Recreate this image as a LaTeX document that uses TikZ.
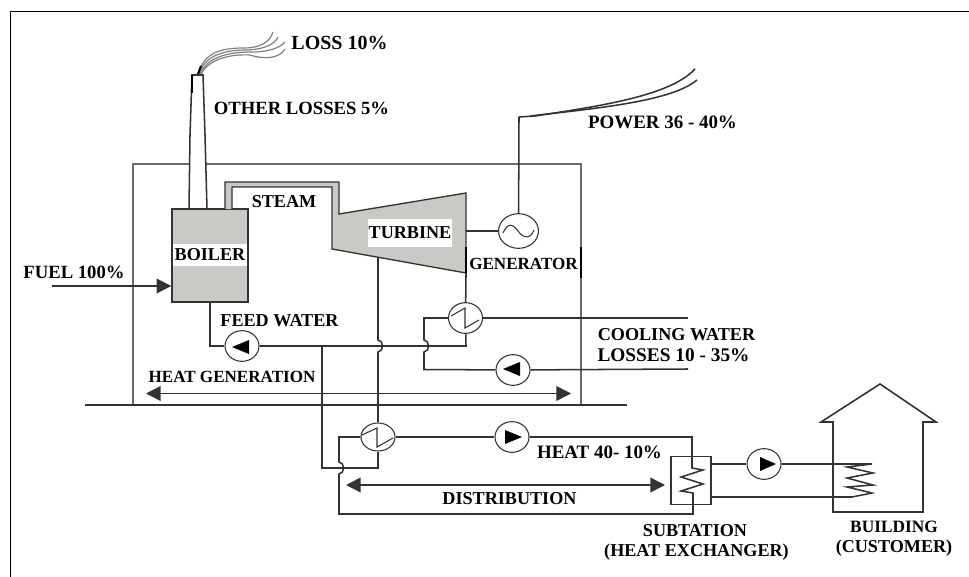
\documentclass[tikz,border=0pt]{standalone}
\usepackage{fontspec}
\setmainfont{Liberation Serif}
\usetikzlibrary{arrows.meta,shapes.geometric}

\definecolor{plantgray}{HTML}{C9C9C5}
\definecolor{linegray}{HTML}{333333}
\definecolor{wallgray}{HTML}{6A6A6A}

\tikzset{
  lbl/.style={font=\bfseries\fontsize{#1}{16}\selectfont, inner sep=0pt, text=black},
  lbl/.default=13.6,
  pipe/.style={draw=linegray, line width=1.15pt},
  wall/.style={draw=wallgray, line width=1.6pt},
  unit/.style={ellipse, draw=linegray, line width=0.8pt, fill=white, inner sep=0pt},
  pumpnode/.style={unit, minimum width=25.5pt, minimum height=23pt},
  bigarrow/.style={pipe, {Triangle[length=11pt,width=11pt]}-{Triangle[length=11pt,width=11pt]}},
  onearrow/.style={pipe, -{Triangle[length=11pt,width=11pt]}},
}

\begin{document}
\begin{tikzpicture}[x=0.75pt,y=-0.75pt]
\useasboundingbox (0,0) rectangle (969,577);

% frame
\draw[black, line width=1.2pt] (10.5,577) --(10.5,11.5) --(969,11.5);

% plant walls and ground
\draw[wall] (133,405) --(133,164) --(581,164) --(581,405);
\draw[pipe] (85,405) --(627,405);

% chimney and smoke
\draw[pipe, fill=white] (189,209) --(190,135) --(192,75) --(203,75) --(205,135) --(207,209);
\draw[draw=black, line width=1.6pt] (192,75) --(192,93);
\draw[draw=gray, line width=0.9pt] (198,74) .. controls (205,50) and (225,48) .. (245,48) .. controls (260,48) and (270,42) .. (273,32);
\draw[draw=gray, line width=0.9pt] (199,74) .. controls (206,53) and (228,50) .. (248,50) .. controls (265,49) and (275,44) .. (278,37);
\draw[draw=gray, line width=0.9pt] (200,74) .. controls (208,56) and (230,52) .. (252,52) .. controls (268,52) and (280,48) .. (285,42);
\draw[draw=gray, line width=0.9pt] (201,74) .. controls (210,58) and (232,54) .. (250,55) .. controls (265,60) and (280,58) .. (285,49);
\draw[draw=black, line width=1.5pt] (198,74) --(201,66);

% boiler
\node[draw=linegray, line width=1.1pt, fill=plantgray, minimum width=57pt, minimum height=70pt, inner sep=0pt] (boiler) at (210,255.5) {};
\node[lbl, fill=white, minimum width=55pt, minimum height=16.5pt] (boilerlabel) at (210,255) {BOILER};

% steam pipe and turbine
\draw[draw=linegray, line width=1pt, fill=plantgray] (225,209) --(225,182) --(339,182) --(339,214) --(466,193) --(466,273) --(332,249) --(332,187) --(232,187) --(232,209);
\node[lbl, fill=white, minimum width=63pt, minimum height=21pt] (turbinelabel) at (410,232.5) {TURBINE};

% generator
\node[pumpnode, minimum width=30pt, minimum height=26pt] (gen) at (518.5,231) {};
\coordinate (shaft) at (466,231);
\coordinate (wirecorner) at (519,117);
\draw[pipe] (shaft) --(gen);
\draw[pipe] (gen) --(wirecorner);
\draw[linegray, line width=0.8pt] (503,233) .. controls (508,222) and (513,224) .. (518,231) .. controls (523,238) and (530,240) .. (534,230);
\draw[pipe] (wirecorner) --(535,116) .. controls (600,106) and (670,96) .. (695,69);
\draw[pipe] (530,116) .. controls (600,108) and (672,101) .. (697,80);
\draw[black, line width=1.6pt] (466,247) --(466,278);
\draw[black, line width=1.6pt] (581,247) --(581,278);

% heat exchangers and pumps
\node[unit, minimum width=25.5pt, minimum height=23pt] (cond) at (465.5,318) {};
\node[unit, minimum width=25.5pt, minimum height=21pt] (exch) at (378,437) {};
\node[pumpnode] (pumpa) at (242,346) {};
\node[pumpnode] (pumpb) at (513,370) {};
\node[pumpnode] (pumpc) at (512,437) {};
\node[pumpnode] (pumpd) at (764,464) {};

\draw[linegray, line width=0.8pt] (451,316) --(465,308) --(465,328) --(479,320);
\draw[linegray, line width=0.8pt] (362,435) --(377,428) --(377,447) --(393,438);

\fill (232,347) --(249,340) --(249,354) --cycle;
\fill (503,369) --(520,362) --(520,376) --cycle;
\fill (522,437) --(505,430) --(505,444) --cycle;
\fill (776,464) --(760,457) --(760,471) --cycle;

% feed water
\coordinate (turbout) at (466,273);
\coordinate (feedright) at (466,346);
\coordinate (feedtee) at (322,346);
\coordinate (feedlow) at (322,468);
\coordinate (exchlow) at (378,468);
\coordinate (turbbleed) at (378,257);
\draw[pipe, line width=1.5pt] (boiler.south) |- (pumpa);
\draw[pipe] (pumpa) --(feedright) --(cond);
\draw[pipe] (turbout) --(cond);
\draw[pipe] (feedtee) --(feedlow) --(exchlow) --(exch);
% bleed line hops over the feed line
\draw[pipe] (turbbleed) --(378,340) .. controls (384,340) and (384,352) .. (378,352) --(exch);

% cooling water
\coordinate (coolin) at (688,318);
\coordinate (coolout) at (688,369);
\draw[pipe] (cond) --(coolin);
\draw[pipe] (pumpb) --(coolout);
\draw[pipe] (cond.west) --(424,318) --(424,340) .. controls (430,340) and (430,352) .. (424,352) --(424,369.5) --(pumpb);

% heat generation
\coordinate (genleft) at (146,393.5);
\coordinate (genright) at (571,393.5);
\draw[bigarrow] (genleft) --(genright);

% fuel
\coordinate (fuelin) at (52,286);
\draw[onearrow] (fuelin) --(fuelin -| boiler.west);

% district heating
\node[draw=linegray, line width=0.9pt, minimum width=30pt, minimum height=35.5pt, inner sep=0pt] (subst) at (691,480.5) {};
\draw[pipe] (exch) --(pumpc);
\draw[pipe] (pumpc) --(692,437) --(692,468) --(703,470) --(681,477) --(703,484) --(681,491) --(693,493) --(693,514) --(339,514) --(339,474) .. controls (345,474) and (345,462) .. (339,462) --(339,437) --(exch.west);
\coordinate (distleft) at (346,485);
\coordinate (distright) at (665,485);
\draw[bigarrow] (distleft) --(distright);

% house
\coordinate (coilend) at (852,497);
\draw[draw=linegray, line width=1.2pt] (833,512) --(833,422) --(821,422) --(880,384) --(936,422) --(923,422) --(923,512) --cycle;
\draw[pipe] (subst.east |- pumpd) --(pumpd);
\draw[pipe] (pumpd) --(872,464) --(847,467) --(873,473) --(847,478) --(873,485) --(847,487) --(872,493) --(coilend) --(subst.east |- coilend);

% labels
\node[lbl=15] (lossone) at (339.5,43) {LOSS 10\%};
\node[lbl=14] (losstwo) at (301.5,108) {OTHER LOSSES 5\%};
\node[lbl=14.2] (power) at (662.5,122) {POWER 36 - 40\%};
\node[lbl] (steam) at (284,202) {STEAM};
\node[lbl=12.8] (genlabel) at (523.5,264) {GENERATOR};
\node[lbl=14] (fuel) at (74,272) {FUEL 100\%};
\node[lbl] (feed) at (279.5,321) {FEED WATER};
\node[lbl] (cooling) at (676.5,335) {COOLING WATER};
\node[lbl=14.5] (losses) at (673.5,355) {LOSSES 10 - 35\%};
\node[lbl=12.8] (heatgen) at (232,377) {HEAT GENERATION};
\node[lbl=14.2] (heat) at (599.5,452) {HEAT 40- 10\%};
\node[lbl] (dist) at (509.5,499) {DISTRIBUTION};
\node[lbl] (subt) at (695,531) {SUBTATION};
\node[lbl] (hex) at (696.5,552) {(HEAT EXCHANGER)};
\node[lbl=13] (build) at (894,527) {BUILDING};
\node[lbl] (cust) at (894,548) {(CUSTOMER)};

\end{tikzpicture}
\end{document}
